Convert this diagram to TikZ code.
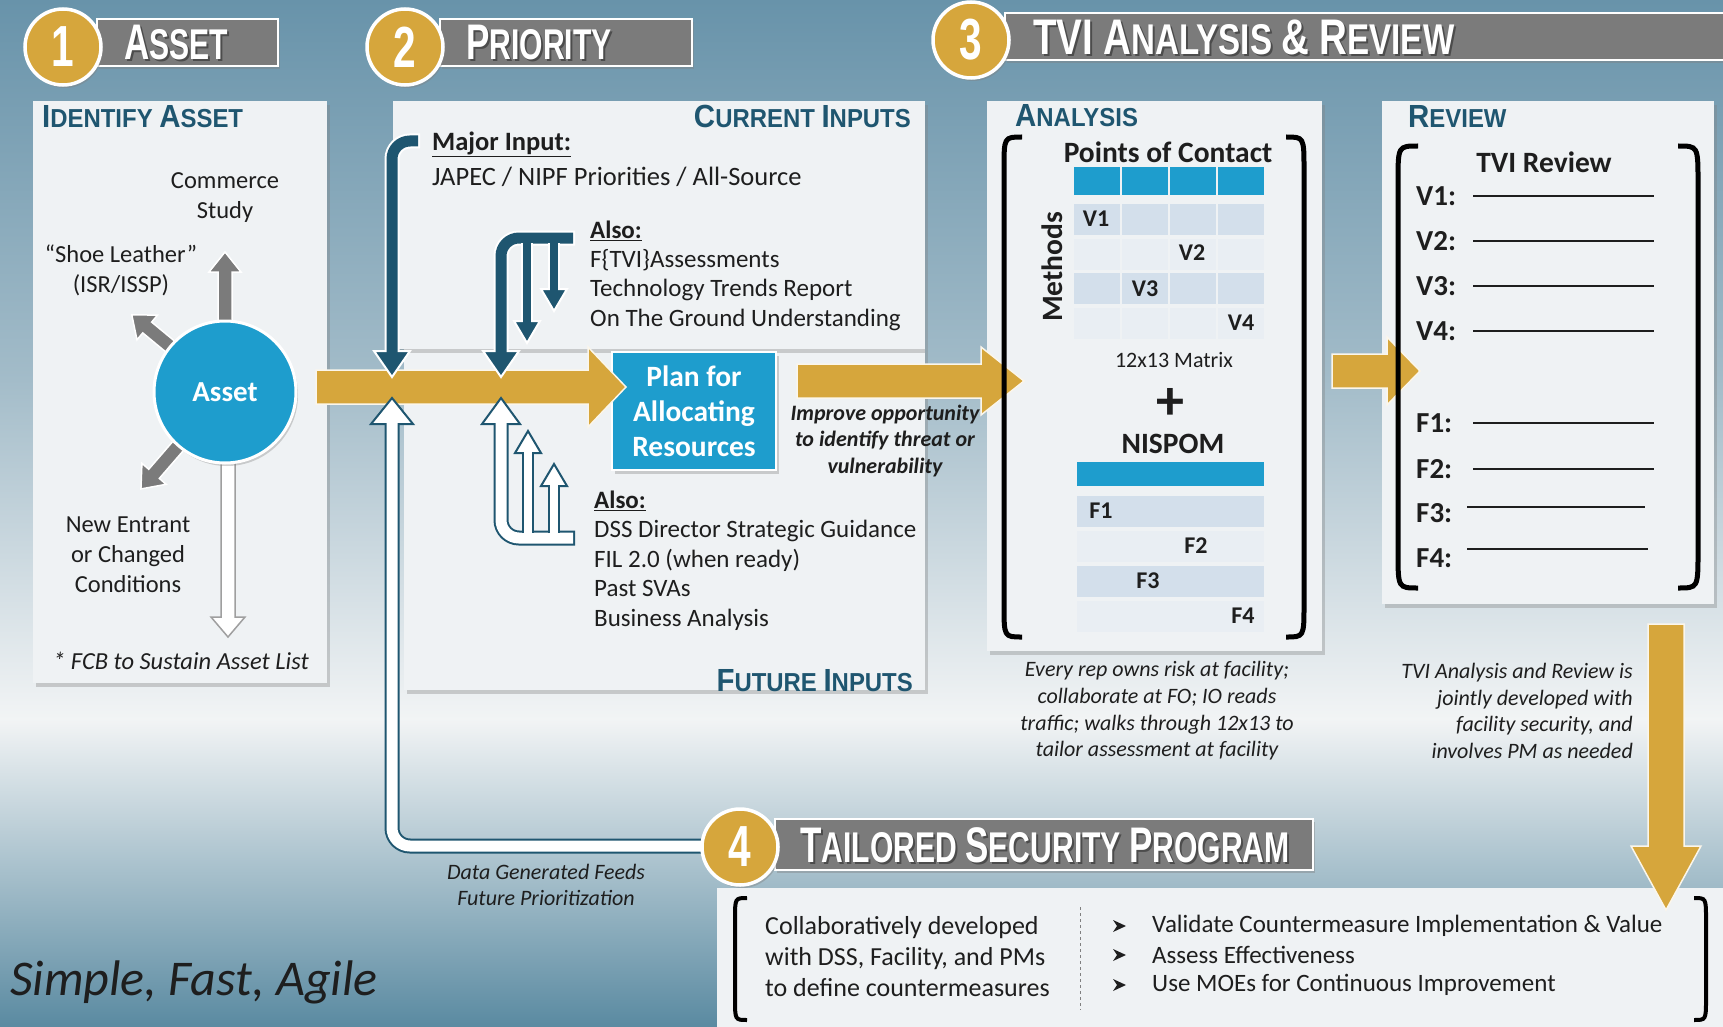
\documentclass[tikz,border=0pt]{standalone}
\usepackage{fontspec}
\setmainfont{Carlito}
\newfontfamily\hfont[FakeStretch=0.7]{Liberation Sans}
\newfontfamily\hfontw[FakeStretch=0.77]{Liberation Sans}
\newfontfamily\pfont[FakeStretch=0.92]{Liberation Sans}
\usetikzlibrary{shadows}
\definecolor{cBlue}{HTML}{1E9DCD}
\definecolor{cDark}{HTML}{1F5670}
\definecolor{cGold}{HTML}{D6A63C}
\definecolor{cGray}{HTML}{7B7B7B}
\definecolor{cPanel}{HTML}{EFF2F4}
\definecolor{cRowA}{HTML}{D3DFEB}
\definecolor{cRowB}{HTML}{E9EEF3}
\definecolor{cTxt}{HTML}{1E1E1E}
\definecolor{bgA}{HTML}{6893AA}
\definecolor{bgB}{HTML}{A3BCC9}
\definecolor{bgC}{HTML}{F2F4F5}
\definecolor{bgD}{HTML}{5A8AA1}
% block arrow: x y angle length shafthalf headhalf headlen style
\newcommand{\barrow}[8]{\begin{scope}[shift={(#1,#2)},rotate=#3]
\path[#8] (0,-#5) -- ({#4-#7},-#5) -- ({#4-#7},-#6) -- (#4,0) -- ({#4-#7},#6) -- ({#4-#7},#5) -- (0,#5) -- cycle;
\end{scope}}
\newcommand{\headdown}[5]{\path[#5] ({#1-#3},{#2-#4}) -- ({#1+#3},{#2-#4}) -- (#1,#2) -- cycle;}
\newcommand{\headup}[5]{\path[#5] ({#1-#3},{#2+#4}) -- ({#1+#3},{#2+#4}) -- (#1,#2) -- cycle;}
\newcommand{\bigsc}[2]{{\fontsize{50}{50}\selectfont #1}{\fontsize{43}{43}\selectfont #2}}
\newcommand{\pansc}[2]{{\fontsize{32}{32}\selectfont #1}{\fontsize{26}{26}\selectfont #2}}
\newcommand{\lbrk}[5]{\draw[line width=#5] ({#1+#4},#2) .. controls (#1,#2) and (#1,#2) .. (#1,{#2+#4*1.8}) -- (#1,{#3-#4*1.8}) .. controls (#1,#3) and (#1,#3) .. ({#1+#4},#3);}
\newcommand{\rbrk}[5]{\draw[line width=#5] ({#1-#4},#2) .. controls (#1,#2) and (#1,#2) .. (#1,{#2+#4*1.8}) -- (#1,{#3-#4*1.8}) .. controls (#1,#3) and (#1,#3) .. ({#1-#4},#3);}
\newcommand{\htitle}[5]{\node[anchor=west,inner sep=0,text=black!70,font=#4\bfseries\fontsize{43}{43}\selectfont] at ({#1+2},{#2+2}) {#5};
\node[anchor=west,inner sep=0,text=white,font=#4\bfseries\fontsize{43}{43}\selectfont] (#3) at (#1,#2) {#5};}
\newcommand{\bul}[2]{\path[fill=cTxt] ({#1-6},{#2-6}) -- ({#1+7},#2) -- ({#1-6},{#2+6}) -- ({#1-2},#2) -- cycle;}

\tikzset{
 panel/.style={fill=cPanel, drop shadow={shadow xshift=3pt, shadow yshift=-4pt, opacity=0.35}},
 hbar/.style={fill=cGray, draw=white, line width=2, drop shadow={shadow xshift=2pt, shadow yshift=-3pt, opacity=0.4}},
 hcirc/.style={circle, minimum size=76, inner sep=0, fill=cGold, draw=white, line width=3.5,
   drop shadow={shadow xshift=2pt, shadow yshift=-3pt, opacity=0.4}, text=white,
   font=\hfont\bfseries\fontsize{58}{58}\selectfont},
 ptitle/.style={inner sep=0, text=cDark, font=\pfont\bfseries\fontsize{26}{26}\selectfont},
 body/.style={inner sep=0, text=cTxt, font=\fontsize{24.5}{30}\selectfont},
 grayarrow/.style={fill=cGray, draw=white, line width=1.5},
 whitearrow/.style={fill=white, draw=gray!75, line width=1.5},
 goldarrow/.style={fill=cGold, draw=white!90!cGold, line width=1.5},
 tpo/.style={line width=15, white, rounded corners=18},
 tpi/.style={line width=11, cDark, rounded corners=18},
 tpo2/.style={line width=12, white},
 tpi2/.style={line width=8, cDark},
 wpo/.style={line width=15, cDark, rounded corners=18},
 wpi/.style={line width=11, white, rounded corners=18},
 wpo2/.style={line width=12, cDark},
 wpi2/.style={line width=8, white},
 thead/.style={fill=cDark, draw=white, line width=2},
 whead/.style={fill=white, draw=cDark, line width=2},
 cellV/.style={inner sep=0, text=cTxt, font=\bfseries\fontsize{24}{24}\selectfont},
 rvlab/.style={anchor=west, inner sep=0, text=cTxt, font=\bfseries\fontsize{29}{29}\selectfont},
 rvline/.style={line width=2.2, cTxt},
 bold30/.style={inner sep=0, text=cTxt, font=\bfseries\fontsize{29.5}{29.5}\selectfont},
 captxt/.style={inner sep=0, text=cTxt, font=\itshape\fontsize{22}{26.7}\selectfont},
}

\begin{document}
\begin{tikzpicture}[x=1pt,y=-1pt]
\useasboundingbox (0,0) rectangle (1723,1027);
% background
\shade[top color=bgA, bottom color=bgB] (0,0) rectangle (1723,380);
\shade[top color=bgB, bottom color=bgC] (0,379) rectangle (1723,720);
\shade[top color=bgC, bottom color=bgD] (0,719) rectangle (1723,1027);

% panels
\path[panel] (33,101) rectangle (327,683);
\path[panel] (404,349) rectangle (925,690);
\path[panel] (393,101) rectangle (925,349);
\path[panel] (987,101) rectangle (1322,651);
\path[panel] (1382,101) rectangle (1714,604);
\path[panel] (717,888) rectangle (1730,1035);

% panel titles
\node[ptitle, anchor=west] (tIdent) at (42,117) {\pansc{I}{DENTIFY} \pansc{A}{SSET}};
\node[ptitle, anchor=east] (tCur) at (911,116) {\pansc{C}{URRENT} \pansc{I}{NPUTS}};
\node[ptitle, anchor=east] (tFut) at (913,681) {\pansc{F}{UTURE} \pansc{I}{NPUTS}};
\node[ptitle, anchor=west] (tAna) at (1015,116) {\pansc{A}{NALYSIS}};
\node[ptitle, anchor=west] (tRev) at (1408,116) {\pansc{R}{EVIEW}};

% header bars
\path[hbar] (97,19) rectangle (278,66);
\htitle{124}{43}{h1}{\hfont}{\bigsc{A}{SSET}}
\path[hbar] (440,19) rectangle (692,66);
\htitle{466}{43}{h2}{\hfont}{\bigsc{P}{RIORITY}}
\path[hbar] (1005,13) rectangle (1735,60);
\htitle{1033}{37}{h3}{\hfontw}{{\fontsize{50}{50}\selectfont TVI A}{\fontsize{43}{43}\selectfont NALYSIS} {\fontsize{50}{50}\selectfont \& R}{\fontsize{43}{43}\selectfont EVIEW}}
\path[hbar] (775,819) rectangle (1313,870);
\htitle{800}{845}{h4}{\hfont}{\bigsc{T}{AILORED} \bigsc{S}{ECURITY} \bigsc{P}{ROGRAM}}

% ---------- Asset panel ----------
\barrow{225}{342}{90}{90}{7}{16}{20}{grayarrow}
\barrow{186.5}{360}{140.4}{71}{7}{16}{20}{grayarrow}
\barrow{192}{430}{229.1}{78}{7}{16}{20}{grayarrow}
\barrow{228}{440}{-90}{197}{7}{17}{20}{whitearrow}
\node[circle, minimum size=142, inner sep=0, fill=cBlue, draw=white, line width=3,
  drop shadow={shadow xshift=2pt, shadow yshift=-3pt, opacity=0.35},
  text=white, font=\bfseries\fontsize{29}{29}\selectfont] (asset) at (225,392) {Asset};
\node[body, align=center] (commerce) at (225,198) {Commerce\\Study};
\node[body, align=center] (shoe) at (121,270) {“Shoe Leather”\\(ISR/ISSP)};
\node[body, align=center] (newent) at (128,555) {New Entrant\\or Changed\\Conditions};
\node[body, font=\itshape\fontsize{24.5}{24.5}\selectfont] (fcb) at (181,661) {* FCB to Sustain Asset List};

% ---------- gold arrows ----------
\node[fill=cBlue, draw=white, line width=2, minimum width=164, minimum height=118, inner sep=0,
  drop shadow={shadow xshift=3pt, shadow yshift=-4pt, opacity=0.35},
  text=white, align=center, font=\bfseries\fontsize{29.5}{35}\selectfont] (plan) at (694,411)
  {Plan for\\Allocating\\Resources};
\barrow{316}{387}{0}{310}{17}{40}{38}{goldarrow}
\barrow{797}{381}{0}{227}{17}{34}{43}{goldarrow}
\barrow{1332}{371}{0}{88}{17}{34}{33}{goldarrow}
\barrow{1666}{624}{-90}{286}{18}{35}{64}{goldarrow}

% ---------- teal pipes (current inputs) ----------
\draw[tpo] (420,141) -- (392,141) -- (392,354);
\headdown{392}{377}{18}{26}{thead}
\draw[tpi] (418,141) -- (392,141) -- (392,356);

\draw[tpo] (575,238) -- (501,238) -- (501,354);
\headdown{501}{377}{18}{26}{thead}
\draw[tpi] (573,238) -- (501,238) -- (501,356);
\draw[tpo2] (527,243) -- (527,322);
\headdown{527}{343}{13}{22}{thead}
\draw[tpi2] (527,242) -- (527,324);
\draw[tpo2] (554,243) -- (554,290);
\headdown{554}{311}{13}{22}{thead}
\draw[tpi2] (554,242) -- (554,292);

% ---------- white pipes (future inputs) ----------
\draw[wpo] (707,846) -- (392,846) -- (392,421);
\headup{392}{398}{21}{26}{whead}
\draw[wpi] (705,846) -- (392,846) -- (392,420);

\draw[wpo] (575,538) -- (501,538) -- (501,421);
\headup{501}{398}{19}{26}{whead}
\draw[wpi] (573,538) -- (501,538) -- (501,420);
\draw[wpo2] (528,533) -- (528,453);
\headup{528}{431}{13}{22}{whead}
\draw[wpi2] (528,534) -- (528,451);
\draw[wpo2] (554,533) -- (554,486);
\headup{554}{464}{13}{22}{whead}
\draw[wpi2] (554,534) -- (554,484);

% header circles
\node[hcirc] (c1) at (63,47) {1};
\node[hcirc] (c2) at (405,47) {2};
\node[hcirc] (c3) at (971,40) {3};
\node[hcirc] (c4) at (740,847) {4};

% ---------- current inputs text ----------
\node[body, anchor=west, font=\bfseries\fontsize{26.5}{26.5}\selectfont] (major) at (432,144) {\underline{Major Input:}};
\node[body, anchor=west, font=\fontsize{26.5}{26.5}\selectfont] (japec) at (432,177) {JAPEC / NIPF Priorities / All-Source};
\node[body, anchor=west, font=\bfseries\fontsize{25}{25}\selectfont] (also1) at (590,231) {\underline{Also:}};
\node[body, anchor=west, align=left, font=\fontsize{25}{29.5}\selectfont] (also1t) at (590,290)
  {F\{TVI\}Assessments\\Technology Trends Report\\On The Ground Understanding};

% ---------- future inputs text ----------
\node[body, anchor=west, font=\bfseries\fontsize{25}{25}\selectfont] (also2) at (594,501) {\underline{Also:}};
\node[body, anchor=west, align=left, font=\fontsize{25}{29.6}\selectfont] (also2t) at (594,575.5)
  {DSS Director Strategic Guidance\\FIL 2.0 (when ready)\\Past SVAs\\Business Analysis};

\node[body, align=center, font=\bfseries\itshape\fontsize{22}{26.5}\selectfont] (improve) at (885,441)
  {Improve opportunity\\to identify threat or\\vulnerability};

% ---------- analysis ----------
\lbrk{1004}{137}{637}{18}{5}
\rbrk{1304}{137}{637}{18}{5}
\node[bold30] (poc) at (1168,152) {Points of Contact};
\foreach \i in {0,...,3} { \fill[cBlue] ({1074+\i*48},167) rectangle ({1120+\i*48},195); }
\foreach \j/\c in {0/cRowA,1/cRowB,2/cRowA,3/cRowB} {
  \foreach \i in {0,...,3} { \fill[\c] ({1074+\i*48},{204+\j*34.7}) rectangle ({1120+\i*48},{235+\j*34.7}); } }
\node[cellV] (v1) at (1096,219) {V1};
\node[cellV] (v2) at (1192,253) {V2};
\node[cellV] (v3) at (1145,289) {V3};
\node[cellV] (v4) at (1241,323) {V4};
\node[bold30, rotate=90] (methods) at (1052,267) {Methods};
\node[body, font=\fontsize{22}{22}\selectfont] (matrix) at (1174,360) {12x13 Matrix};
\node[body, font=\bfseries\fontsize{56}{56}\selectfont] (plus) at (1170,404) {+};
\node[bold30] (nispom) at (1173,444) {NISPOM};
\fill[cBlue] (1077,462) rectangle (1264,486);
\foreach \j/\c in {0/cRowA,1/cRowB,2/cRowA,3/cRowB} { \fill[\c] (1077,{496+\j*35}) rectangle (1264,{527+\j*35}); }
\node[cellV] (f1) at (1101,511) {F1};
\node[cellV] (f2) at (1196,546) {F2};
\node[cellV] (f3) at (1148,581) {F3};
\node[cellV] (f4) at (1243,616) {F4};
\node[captxt, align=center] (capA) at (1157,711)
  {Every rep owns risk at facility;\\collaborate at FO; IO reads\\traffic; walks through 12x13 to\\tailor assessment at facility};

% ---------- review ----------
\lbrk{1398}{146}{588}{20}{5}
\rbrk{1698}{146}{588}{20}{5}
\node[bold30] (tvirev) at (1544,162) {TVI Review};
\node[rvlab] (r1) at (1416,196) {V1:}; \draw[rvline] (1473,196) -- (1654,196);
\node[rvlab] (r2) at (1416,241) {V2:}; \draw[rvline] (1473,241) -- (1654,241);
\node[rvlab] (r3) at (1416,286) {V3:}; \draw[rvline] (1473,286) -- (1654,286);
\node[rvlab] (r4) at (1416,331) {V4:}; \draw[rvline] (1473,331) -- (1654,331);
\node[rvlab] (r5) at (1416,423) {F1:}; \draw[rvline] (1473,423) -- (1654,423);
\node[rvlab] (r6) at (1416,469) {F2:}; \draw[rvline] (1473,469) -- (1654,469);
\node[rvlab] (r7) at (1416,513) {F3:}; \draw[rvline] (1467,507) -- (1645,507);
\node[rvlab] (r8) at (1416,558) {F4:}; \draw[rvline] (1467,549) -- (1648,549);
\node[captxt, anchor=east, align=right] (capR) at (1633,711)
  {TVI Analysis and Review is\\jointly developed with\\facility security, and\\involves PM as needed};

% ---------- tailored security program ----------
\lbrk{735}{898}{1020}{12}{4}
\rbrk{1706}{898}{1020}{12}{4}
\node[body, anchor=west, align=left, font=\fontsize{26}{31}\selectfont] (collab) at (765,957)
  {Collaboratively developed\\with DSS, Facility, and PMs\\to define countermeasures};
\draw[gray, dashed, line width=1] (1080,907) -- (1080,1010);
\bul{1119}{926}\bul{1119}{955}\bul{1119}{985}
\node[body, anchor=west, font=\fontsize{25}{25}\selectfont] (b1) at (1152,926) {Validate Countermeasure Implementation \& Value};
\node[body, anchor=west, font=\fontsize{25}{25}\selectfont] (b2) at (1152,955) {Assess Effectiveness};
\node[body, anchor=west, font=\fontsize{25}{25}\selectfont] (b3) at (1152,985) {Use MOEs for Continuous Improvement};

% ---------- misc text ----------
\node[captxt, align=center] (datafeeds) at (546,885) {Data Generated Feeds\\Future Prioritization};
\node[body, anchor=west, font=\itshape\fontsize{50}{50}\selectfont] (sfa) at (10,982) {Simple, Fast, Agile};
\end{tikzpicture}
\end{document}
